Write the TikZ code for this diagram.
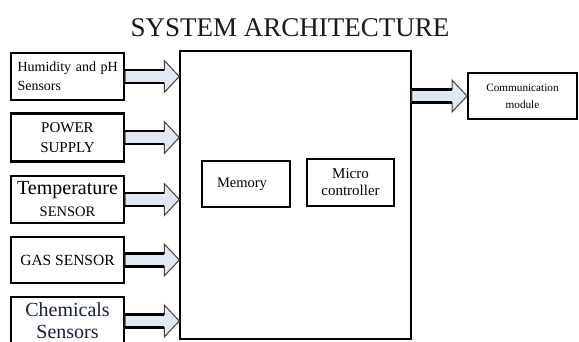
\documentclass[tikz,border=0pt]{standalone}
\usepackage{fontspec}
\setmainfont{Liberation Serif}
\usetikzlibrary{calc}
\definecolor{arrfillc}{HTML}{DFE8F3}
\definecolor{chemc}{HTML}{17203A}
\newcommand\fatarr[2]{%
  \filldraw[arrbody] let \p1=#1, \p2=#2 in
    ({\x1},{\y1+6.5pt}) -- ({\x2-15pt},{\y1+6.5pt}) -- ({\x2-15pt},{\y1+16pt}) --
    ({\x2},{\y1}) -- ({\x2-15pt},{\y1-16pt}) -- ({\x2-15pt},{\y1-6.5pt}) --
    ({\x1},{\y1-6.5pt}) -- cycle;
  \draw[arrshaft] let \p1=#1, \p2=#2 in
    ({\x1},{\y1+6.5pt}) -- ({\x2-15pt},{\y1+6.5pt})
    ({\x1},{\y1-6.5pt}) -- ({\x2-15pt},{\y1-6.5pt});}
\begin{document}
\begin{tikzpicture}[x=1pt,y=-1pt,
  sbox/.style={draw=black, line width=2.2pt, minimum width=113pt, minimum height=47pt, inner sep=0pt},
  arrbody/.style={fill=arrfillc, draw=black!75, line width=1pt, line join=miter},
  arrshaft/.style={draw=black, line width=2.2pt}]
\useasboundingbox (0,0) rectangle (579,341);
\clip (0,0) rectangle (579,341);
\fill[white] (0,0) rectangle (579,341);

\node[font=\fontsize{27}{30}\selectfont, text=black!90] (title) at (290,28) {SYSTEM ARCHITECTURE};

% main block
\node[draw=black, line width=1.5pt, minimum width=231pt, minimum height=288pt, inner sep=0pt] (main) at (295.5,195) {};
\node[draw=black, line width=2.4pt, minimum width=88pt, minimum height=46pt, inner sep=0pt,
      font=\fontsize{14.5}{17}\selectfont] (mem) at (246,184) {\hspace*{-8pt}Memory};
\node[draw=black, line width=1.5pt, minimum width=87pt, minimum height=47pt, inner sep=0pt,
      align=center, font=\fontsize{15}{17}\selectfont] (mcu) at (350.5,182.5) {Micro\\controller};

% sensor blocks
\node[sbox, align=left, text width=104pt, font=\fontsize{14}{19}\selectfont] (hum) at (67.5,76.5) {\hspace*{2pt}Humidity and pH\\\hspace*{2pt}Sensors};
\node[sbox, minimum height=48pt, align=center, font=\fontsize{15}{20}\selectfont] (pow) at (67.5,137.5) {POWER\\SUPPLY};
\node[sbox, align=center, font=\fontsize{20}{22}\selectfont] (temp) at (67.5,199.5) {Temperature\\\fontsize{14.5}{22}\selectfont SENSOR};
\node[sbox, minimum height=46pt, font=\fontsize{15.5}{18}\selectfont] (gas) at (67.5,260) {GAS SENSOR};
\node[sbox, minimum height=48pt, align=center, text=chemc, font=\fontsize{20}{22}\selectfont] (chem) at (67.5,321) {Chemicals\\Sensors};

% communication block
\node[draw=black, line width=2pt, minimum width=109pt, minimum height=46pt, inner sep=0pt,
      align=center, font=\fontsize{11.2}{17}\selectfont] (comm) at (522.5,96) {Communication\\module};

% arrows
\fatarr{(hum.east)}{(hum.east -| main.west)}
\fatarr{(pow.east)}{(pow.east -| main.west)}
\fatarr{(temp.east)}{(temp.east -| main.west)}
\fatarr{(gas.east)}{(gas.east -| main.west)}
\fatarr{(chem.east)}{(chem.east -| main.west)}
\fatarr{(comm.west -| main.east)}{(comm.west)}
\end{tikzpicture}
\end{document}
